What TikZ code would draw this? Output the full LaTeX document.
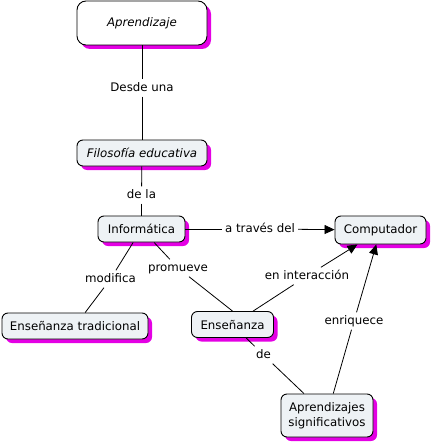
\documentclass[tikz,border=0pt]{standalone}
\usepackage{fontspec}
\setmainfont{DejaVu Sans}
\usetikzlibrary{shadows,arrows.meta}
\definecolor{shadowmag}{RGB}{228,0,228}
\definecolor{cfill}{RGB}{238,242,245}
\tikzset{
  concept/.style={draw=black, line width=0.9pt, rounded corners=6pt, fill=cfill,
    inner sep=0pt, align=center, font=\fontsize{11.8}{14}\selectfont,
    drop shadow={shadow xshift=4pt, shadow yshift=-4pt, fill=shadowmag, opacity=1}},
  lbl/.style={inner sep=3pt, font=\fontsize{11.8}{14}\selectfont, text height=8.5pt, text depth=2.5pt},
  conn/.style={line width=0.8pt, draw=black},
  arr/.style={conn, -{Triangle[length=10pt,width=9pt]}}
}
\begin{document}
\begin{tikzpicture}[x=1pt,y=-1pt]
\useasboundingbox (0,0) rectangle (432,444);
% concepts
\node[concept, fill=white, rounded corners=9pt, minimum width=130pt, minimum height=44pt, font=\fontsize{11.8}{14}\selectfont\itshape] (apr) at (142,23) {Aprendizaje};
\node[concept, minimum width=130pt, minimum height=26pt, font=\fontsize{11.8}{14}\selectfont\itshape] (fil) at (142,153) {Filosofía educativa};
\node[concept, minimum width=87pt, minimum height=26pt] (inf) at (141.5,229) {Informática};
\node[concept, minimum width=91pt, minimum height=28pt] (comp) at (380.5,230) {Computador};
\node[concept, minimum width=146pt, minimum height=26pt] (trad) at (75,326) {Enseñanza tradicional};
\node[concept, minimum width=82pt, minimum height=26pt] (ens) at (232.5,324.5) {Enseñanza};
\node[concept, minimum width=92pt, minimum height=43pt, font=\fontsize{11.8}{15}\selectfont] (sig) at (327,415.5) {Aprendizajes\\significativos};
% linking phrases
\node[lbl] (l1) at (142,88) {Desde una};
\node[lbl] (l2) at (141.5,195) {de la};
\node[lbl] (l3) at (260,229) {a través del};
\node[lbl] (l4) at (110.5,279) {modifica};
\node[lbl] (l5) at (178,268) {promueve};
\node[lbl] (l6) at (307,276) {en interacción};
\node[lbl] (l7) at (354,321) {enriquece};
\node[lbl] (l8) at (263.5,355) {de};
% connectors
\draw[conn] (apr) -- (l1);
\draw[conn] (l1) -- (fil);
\draw[conn] (fil) -- (l2);
\draw[conn] (l2) -- (inf);
\draw[conn] (inf) -- (l3);
\draw[arr] (l3) -- (comp);
\draw[conn] (inf) -- (l4);
\draw[conn] (l4) -- (trad);
\draw[conn] (inf) -- (l5);
\draw[conn] (l5) -- (ens.north);
\draw[conn] (ens) -- (l6);
\draw[arr] (l6) -- (comp);
\draw[conn] (sig) -- (l7);
\draw[arr] (l7) -- (comp);
\draw[conn] (ens) -- (l8);
\draw[conn] (l8) -- (sig);
\end{tikzpicture}
\end{document}
